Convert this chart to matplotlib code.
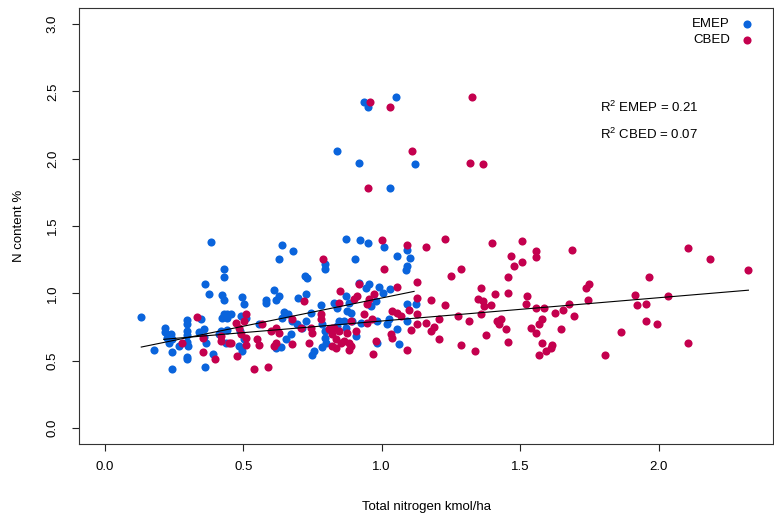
import matplotlib
matplotlib.use("Agg")
import matplotlib.pyplot as plt
import numpy as np

plt.rcParams['font.family'] = ['Liberation Sans', 'DejaVu Sans']
plt.rcParams['mathtext.fontset'] = 'custom'
plt.rcParams['mathtext.rm'] = 'Liberation Sans'
plt.rcParams['mathtext.it'] = 'Liberation Sans:italic'

# ---- data ----
emep_x = [0.383, 0.431, 0.431, 0.362, 0.377, 0.425, 0.431, 0.132, 0.430, 0.442, 0.425, 0.442,
          0.296, 0.296, 0.296, 0.296, 0.298, 0.300, 0.296, 0.296, 0.347, 0.358, 0.340, 0.358, 0.365,
          0.218, 0.238, 0.224, 0.244, 0.232, 0.218, 0.178, 0.242, 0.268, 0.242, 0.361, 0.392,
          0.419, 0.413, 0.443, 0.437,
          0.639, 0.681, 0.629, 0.722, 0.729, 0.795, 0.795, 0.611, 0.629, 0.617, 0.581, 0.581,
          0.699, 0.726, 0.780, 0.495, 0.503, 0.455, 0.491, 0.509, 0.490, 0.503, 0.485, 0.497,
          0.647, 0.660, 0.641, 0.677, 0.696, 0.726, 0.713, 0.671, 0.653, 0.635, 0.617, 0.744,
          0.786, 0.795, 0.795, 0.798, 0.786, 0.756, 0.747, 0.557,
          0.872, 0.922, 0.951, 1.008, 0.903, 1.054, 1.090, 1.101, 1.090, 1.087,
          0.918, 0.954, 0.942, 0.990, 1.030, 1.003, 0.870, 0.882, 0.828, 0.840, 0.876, 0.888,
          0.960, 0.978, 1.090, 1.123, 0.846, 0.864, 0.894, 0.924, 0.840, 0.870, 0.984, 1.027,
          1.021, 1.093, 1.057, 0.906, 0.984, 1.063,
          0.936, 0.951, 1.053, 0.840, 0.918, 1.121, 1.030]
emep_y = [1.383, 1.184, 1.122, 1.072, 0.998, 0.985, 0.948, 0.823, 0.843, 0.843, 0.813, 0.813,
          0.800, 0.770, 0.720, 0.690, 0.640, 0.610, 0.525, 0.510, 0.810, 0.737, 0.714, 0.674, 0.632,
          0.739, 0.699, 0.669, 0.657, 0.632, 0.714, 0.575, 0.562, 0.607, 0.438, 0.453, 0.552,
          0.720, 0.694, 0.724, 0.632,
          1.360, 1.311, 1.254, 1.129, 1.117, 1.221, 1.179, 1.022, 0.980, 0.948, 0.948, 0.925,
          0.963, 0.993, 0.913, 0.973, 0.918, 0.843, 0.831, 0.818, 0.719, 0.657, 0.607, 0.569,
          0.863, 0.843, 0.818, 0.793, 0.769, 0.793, 0.744, 0.699, 0.657, 0.600, 0.595, 0.856,
          0.769, 0.719, 0.669, 0.632, 0.600, 0.569, 0.545, 0.769,
          1.403, 1.396, 1.373, 1.341, 1.254, 1.279, 1.321, 1.261, 1.204, 1.172,
          1.080, 1.067, 1.037, 1.047, 1.035, 1.005, 0.980, 0.930, 0.930, 0.893, 0.868, 0.856,
          0.905, 0.943, 0.918, 0.918, 0.793, 0.793, 0.793, 0.781, 0.756, 0.744, 0.793, 0.806,
          0.769, 0.793, 0.731, 0.681, 0.632, 0.625,
          2.423, 2.381, 2.455, 2.055, 1.970, 1.963, 1.784]

cbed_x = [0.332, 0.280, 0.355, 0.355, 0.400, 0.419, 0.419, 0.449,
          0.788, 0.720, 0.780, 0.780, 0.509, 0.503, 0.473, 0.485, 0.491, 0.509, 0.455, 0.479,
          0.569, 0.551, 0.557, 0.509, 0.599, 0.629, 0.617, 0.617, 0.611, 0.677, 0.677, 0.708,
          0.744, 0.750, 0.738, 0.810, 0.822, 0.822, 0.539, 0.591,
          1.000, 1.090, 1.159, 1.008, 0.918, 0.850, 1.057, 1.126, 0.912, 0.900, 0.954, 0.972,
          0.948, 0.846, 1.126, 1.177, 0.936, 0.966, 0.948, 0.888, 1.039, 1.057, 1.069, 1.099,
          1.126, 1.129, 1.159, 1.189, 1.177, 1.207, 1.105, 0.828, 0.846, 0.876, 0.906, 0.822,
          0.834, 0.852, 0.864, 0.882, 0.888, 0.834, 0.882, 1.039, 1.032, 0.978, 1.090, 0.970, 1.207,
          1.227, 1.397, 1.505, 1.556, 1.556, 1.468, 1.505, 1.478, 1.288, 1.249, 1.457, 1.360,
          1.408, 1.457, 1.348, 1.364, 1.369, 1.394, 1.526, 1.520, 1.556, 1.586, 1.227, 1.276,
          1.315, 1.357, 1.418, 1.430, 1.424, 1.448, 1.538, 1.556, 1.568, 1.580, 1.378, 1.288,
          1.337, 1.457, 1.580, 1.568, 1.592,
          1.686, 1.736, 1.748, 1.745, 1.676, 1.656, 1.626, 1.694, 1.646, 1.614, 1.610, 1.806,
          1.865, 1.915, 1.923, 1.956, 1.965, 1.956, 1.995, 2.034, 2.106, 2.106, 2.184, 2.324,
          0.958, 1.029, 1.327, 1.108, 1.318, 1.366, 0.949]
cbed_y = [0.826, 0.632, 0.669, 0.565, 0.513, 0.681, 0.649, 0.632,
          1.254, 0.943, 0.843, 0.806, 0.843, 0.793, 0.781, 0.744, 0.694, 0.669, 0.632, 0.532,
          0.774, 0.657, 0.619, 0.619, 0.719, 0.707, 0.744, 0.632, 0.607, 0.806, 0.625, 0.739,
          0.744, 0.707, 0.632, 0.731, 0.744, 0.607, 0.440, 0.450,
          1.396, 1.361, 1.341, 1.179, 1.072, 1.017, 1.050, 1.087, 0.980, 0.955, 0.955, 0.993,
          0.918, 0.930, 0.968, 0.948, 0.843, 0.806, 0.781, 0.793, 0.868, 0.856, 0.831, 0.873,
          0.843, 0.769, 0.781, 0.748, 0.719, 0.806, 0.724, 0.744, 0.719, 0.707, 0.719, 0.694,
          0.657, 0.632, 0.644, 0.632, 0.607, 0.595, 0.582, 0.669, 0.694, 0.644, 0.575, 0.552, 0.657,
          1.403, 1.373, 1.386, 1.311, 1.266, 1.279, 1.229, 1.204, 1.184, 1.129, 1.122, 1.037,
          0.998, 1.000, 0.955, 0.943, 0.905, 0.913, 0.980, 0.918, 0.888, 0.893, 0.910, 0.831,
          0.793, 0.843, 0.793, 0.806, 0.769, 0.737, 0.739, 0.707, 0.769, 0.806, 0.687, 0.619,
          0.569, 0.639, 0.632, 0.545, 0.569,
          1.323, 1.037, 1.067, 0.948, 0.918, 0.873, 0.856, 0.831, 0.731, 0.619, 0.595, 0.542,
          0.714, 0.987, 0.910, 0.918, 1.122, 0.793, 0.769, 0.980, 1.333, 0.627, 1.254, 1.174,
          2.423, 2.381, 2.455, 2.055, 1.970, 1.963, 1.784]

# fitted regression lines
emep_fit = dict(slope=0.42, intercept=0.545, x0=0.132, x1=1.117)
cbed_fit = dict(slope=0.173, intercept=0.621, x0=0.213, x1=2.324)
r2_labels = ["R$^{2}$ EMEP = 0.21", "R$^{2}$ CBED = 0.07"]
series_names = ["EMEP", "CBED"]
x_ticks = [0.0, 0.5, 1.0, 1.5, 2.0]
y_ticks = [0.0, 0.5, 1.0, 1.5, 2.0, 2.5, 3.0]

BLUE = '#0a64dc'
RED = '#c4004e'
FS = 9.5

W, H = 774, 516
fig = plt.figure(figsize=(W / 100, H / 100), dpi=100)
ax = fig.add_axes([79 / W, (H - 444) / H, (773 - 79) / W, (444 - 8) / H])

ms = 34
h1 = ax.scatter(emep_x, emep_y, s=ms, c=BLUE, linewidths=0, label=series_names[0], zorder=2)
h2 = ax.scatter(cbed_x, cbed_y, s=ms, c=RED, linewidths=0, label=series_names[1], zorder=2)

for f in (emep_fit, cbed_fit):
    xs = np.array([f['x0'], f['x1']])
    ax.plot(xs, f['intercept'] + f['slope'] * xs, color='black', lw=0.8, zorder=3)

ax.set_xlim(-0.0928, 2.4128)
ax.set_ylim(-0.12, 3.12)
ax.set_xticks(x_ticks)
ax.set_xticklabels([f"{v:.1f}" for v in x_ticks])
ax.set_yticks(y_ticks)
ax.set_yticklabels([f"{v:.1f}" for v in y_ticks])
ax.tick_params(axis='both', direction='out', length=5, width=0.8, colors='#222222',
               labelsize=FS, labelcolor='black')
ax.tick_params(axis='x', pad=7.5)
ax.tick_params(axis='y', pad=9.5)
for lbl in ax.get_yticklabels():
    lbl.set_rotation(90)
    lbl.set_va('center')
for s in ax.spines.values():
    s.set_linewidth(0.8)
    s.set_color('#333333')

ax.set_xlabel("Total nitrogen kmol/ha", fontsize=FS)
ax.set_ylabel("N content %", fontsize=FS)
ax.xaxis.set_label_coords(0.5, (444 - 507) / 436)
ax.xaxis.label.set_va('center')
ax.yaxis.set_label_coords((19 - 79) / 694, 0.5)
ax.yaxis.label.set_va('center')
ax.yaxis.label.set_ha('center')

leg = ax.legend(handles=[h1, h2], loc='upper right', bbox_to_anchor=(0.9797, 0.989),
                frameon=False, markerfirst=False, fontsize=FS, handletextpad=0.8,
                labelspacing=0.27, handlelength=1.0, borderaxespad=0.0, scatterpoints=1)

ax.text((600 - 79) / 694, (444 - 107.7) / 436, r2_labels[0], transform=ax.transAxes,
        fontsize=FS, ha='left', va='center')
ax.text((600 - 79) / 694, (444 - 134.3) / 436, r2_labels[1], transform=ax.transAxes,
        fontsize=FS, ha='left', va='center')

fig.savefig("out.png", dpi=100)
